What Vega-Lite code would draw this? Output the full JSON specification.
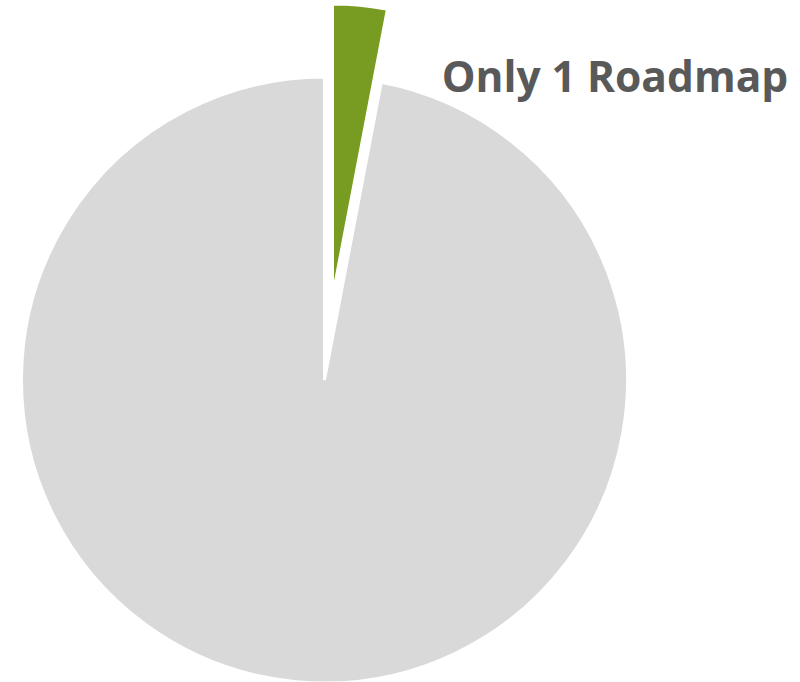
{
  "$schema": "https://vega.github.io/schema/vega-lite/v6.json",
  "autosize": "none",
  "width": 649,
  "height": 606,
  "padding": {"left": 0, "top": 77, "right": 151, "bottom": 0},
  "background": "white",
  "config": {"view": {"stroke": null}},
  "data": {
    "values": [
      {"segment": "Only 1 Roadmap", "share": 3, "rank": 1},
      {"segment": "Other", "share": 97, "rank": 2}
    ]
  },
  "encoding": {
    "theta": {"field": "share", "type": "quantitative", "stack": true},
    "order": {"field": "rank", "type": "quantitative"}
  },
  "layer": [
    {
      "mark": {"type": "arc", "stroke": "white", "strokeWidth": 3},
      "encoding": {
        "color": {
          "field": "segment",
          "type": "nominal",
          "scale": {"domain": ["Only 1 Roadmap", "Other"], "range": ["#789c22", "#d9d9d9"]},
          "legend": null
        },
        "opacity": {"condition": {"test": "datum.segment === 'Other'", "value": 1}, "value": 0}
      }
    },
    {
      "mark": {"type": "arc", "stroke": "white", "strokeWidth": 3, "outerRadius": 293, "xOffset": 8, "yOffset": -83},
      "encoding": {
        "color": {
          "field": "segment",
          "type": "nominal",
          "scale": {"domain": ["Only 1 Roadmap", "Other"], "range": ["#789c22", "#d9d9d9"]},
          "legend": null
        },
        "opacity": {"condition": {"test": "datum.segment === 'Only 1 Roadmap'", "value": 1}, "value": 0}
      }
    },
    {
      "mark": {
        "type": "text",
        "radius": 310,
        "align": "left",
        "baseline": "alphabetic",
        "dx": 88,
        "dy": 21,
        "font": "Open Sans",
        "fontWeight": "bold",
        "fontSize": 42.5,
        "fill": "#595959"
      },
      "encoding": {
        "text": {"condition": {"test": "datum.segment === 'Only 1 Roadmap'", "field": "segment"}, "value": ""}
      }
    }
  ]
}
